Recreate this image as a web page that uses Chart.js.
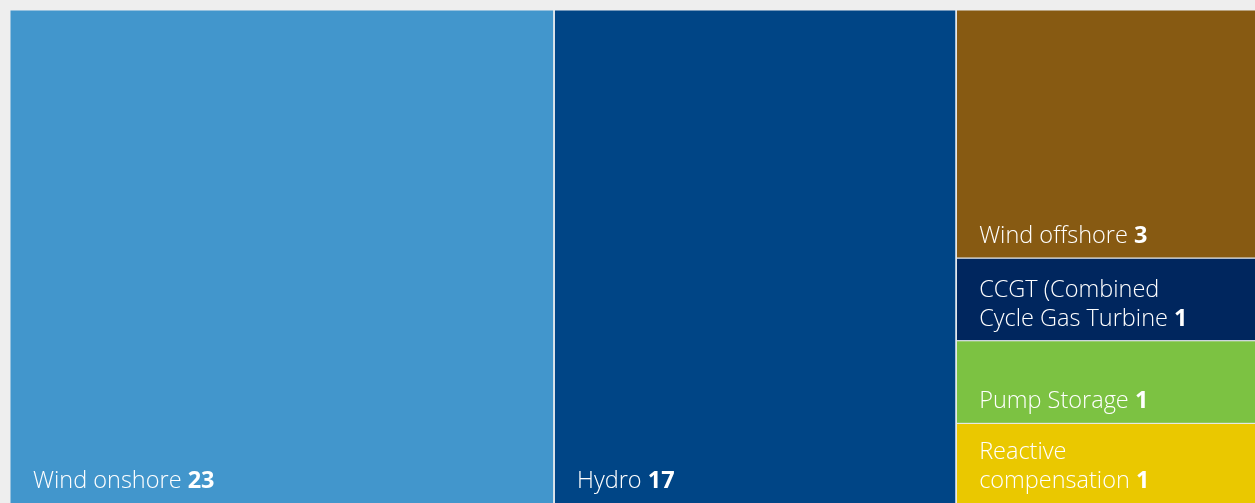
<!DOCTYPE html>
<html><head><meta charset="utf-8">
<script src="https://cdn.jsdelivr.net/npm/chart.js@4.4.0/dist/chart.umd.min.js"></script>
<style>
html,body{margin:0;padding:0;background:#eeeeee;overflow:hidden;width:1255px;height:503px;}
#wrap{position:absolute;left:10px;top:10px;width:1247px;height:496px;}
</style></head><body>
<div id="wrap"><canvas id="c"></canvas></div>
<script>
// ---- data ----
const categories = ["Wind onshore", "Hydro", "Wind offshore", "CCGT (Combined Cycle Gas Turbine", "Pump Storage", "Reactive compensation"];
const labelLines = [["Wind onshore"], ["Hydro"], ["Wind offshore"], ["CCGT (Combined", "Cycle Gas Turbine"], ["Pump Storage"], ["Reactive", "compensation"]];
const counts = [23, 17, 3, 1, 1, 1];            // displayed values
const sizes = [23, 17, 6.36, 2.12, 2.12, 2.12];  // tile areas
const groups = [0, 1, 2, 2, 2, 2];               // column each tile belongs to
const colors = ["#4296cc", "#004586", "#875a12", "#00265e", "#7cc242", "#eac800"];

// ---- slice-and-dice layout in data units ----
const total = sizes.reduce((a, b) => a + b, 0);
const colSum = {};
groups.forEach((g, i) => { colSum[g] = (colSum[g] || 0) + sizes[i]; });
const rects = [];
let xCursor = 0, lastG = null, yCursor = 0;
groups.forEach((g, i) => {
  if (g !== lastG) {
    if (lastG !== null) xCursor += colSum[lastG];
    yCursor = 0; lastG = g;
  }
  const h = sizes[i] / colSum[g];
  rects.push({ x0: xCursor, x1: xCursor + colSum[g], y0: yCursor, y1: yCursor + h });
  yCursor += h;
});

const datasets = rects.map((r, i) => ({
  label: categories[i],
  data: [{x: r.x0, y: r.y0}, {x: r.x1, y: r.y0}, {x: r.x1, y: r.y1}, {x: r.x0, y: r.y1}, {x: r.x0, y: r.y0}],
  showLine: true,
  fill: 'shape',
  backgroundColor: colors[i],
  borderColor: '#e9ecef',
  borderWidth: 1,
  pointRadius: 0,
  tension: 0
}));

const labelPlugin = {
  id: 'tileLabels',
  afterDatasetsDraw(chart) {
    const ctx = chart.ctx, xs = chart.scales.x, ys = chart.scales.y;
    ctx.save();
    ctx.fillStyle = '#ffffff';
    ctx.textBaseline = 'alphabetic';
    rects.forEach((r, i) => {
      const left = xs.getPixelForValue(r.x0) + 23;
      const bottom = Math.min(ys.getPixelForValue(r.y1), 493) - 15;
      const lines = labelLines[i];
      const lh = 29;
      lines.forEach((ln, k) => {
        const y = bottom - (lines.length - 1 - k) * lh;
        ctx.font = '300 23.5px "Open Sans"';
        ctx.fillText(ln, left, y);
        if (k === lines.length - 1) {
          const w = ctx.measureText(ln + ' ').width;
          ctx.font = '700 23.5px "Open Sans"';
          ctx.fillText(String(counts[i]), left + w, y);
        }
      });
    });
    ctx.restore();
  }
};

new Chart(document.getElementById('c'), {
  type: 'scatter',
  data: { datasets },
  options: {
    responsive: true,
    maintainAspectRatio: false,
    animation: false,
    layout: { padding: 0 },
    plugins: { legend: { display: false }, tooltip: { enabled: false } },
    scales: {
      x: { type: 'linear', min: 0, max: total, display: false },
      y: { type: 'linear', min: 0, max: 1, reverse: true, display: false }
    }
  },
  plugins: [labelPlugin]
});
</script>
</body></html>
